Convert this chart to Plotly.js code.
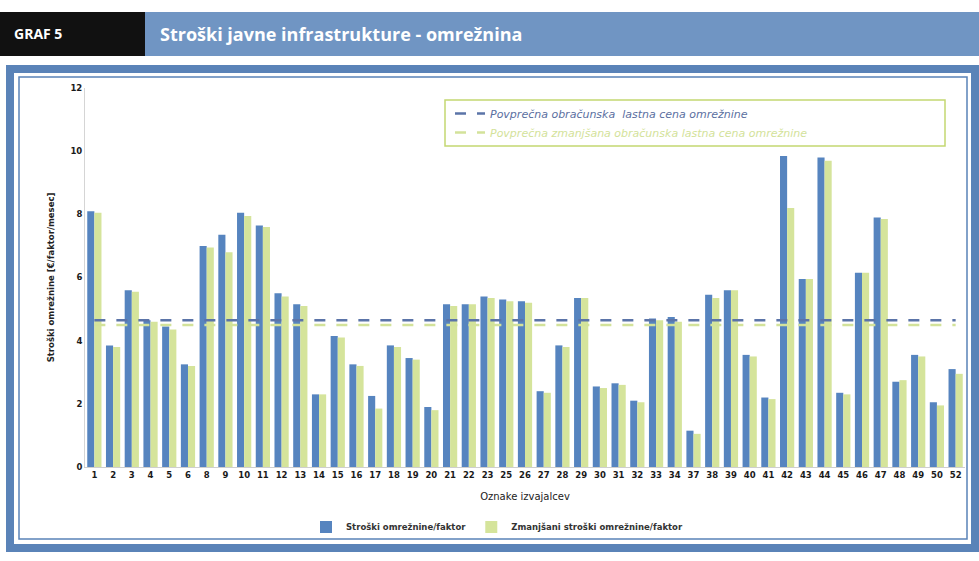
<!DOCTYPE html>
<html>
<head>
<meta charset="utf-8">
<script src="https://cdn.plot.ly/plotly-3.0.1.min.js"></script>
<style>
  html, body { margin: 0; padding: 0; background: #ffffff; }
  #chart { width: 979px; height: 561px; }
</style>
</head>
<body>
<div id="chart"></div>
<script>
// ---- data ----
const categories = ['1','2','3','4','5','6','8','9','10','11','12','13','14','15','16','17','18','19','20','21','22','23','25','26','27','28','29','30','31','32','33','34','37','38','39','40','41','42','43','44','45','46','47','48','49','50','52'];
const stroski = [8.1,3.85,5.6,4.65,4.45,3.25,7.0,7.35,8.05,7.65,5.5,5.15,2.3,4.15,3.25,2.25,3.85,3.45,1.9,5.15,5.15,5.4,5.3,5.25,2.4,3.85,5.35,2.55,2.65,2.1,4.7,4.75,1.15,5.45,5.6,3.55,2.2,9.85,5.95,9.8,2.35,6.15,7.9,2.7,3.55,2.05,3.1];
const zmanjsani = [8.05,3.8,5.55,4.6,4.35,3.2,6.95,6.8,7.95,7.6,5.4,5.1,2.3,4.1,3.2,1.85,3.8,3.4,1.8,5.1,5.15,5.35,5.25,5.2,2.35,3.8,5.35,2.5,2.6,2.05,4.65,4.6,1.05,5.35,5.6,3.5,2.15,8.2,5.95,9.7,2.3,6.15,7.85,2.75,3.5,1.95,2.95];
const avgCena = 4.65;
const avgZmanjsana = 4.5;
const yTicks = [0,2,4,6,8,10,12];

const nameStroski = 'Stroški omrežnine/faktor';
const nameZmanjsani = 'Zmanjšani stroški omrežnine/faktor';
const nameAvg = 'Povprečna obračunska  lastna cena omrežnine';
const nameAvgZ = 'Povprečna zmanjšana obračunska lastna cena omrežnine';
const headerLabel = 'GRAF 5';
const headerTitle = 'Stroški javne infrastrukture - omrežnina';

// ---- layout helpers (pixel -> paper) ----
const W = 979, H = 561;
const L = 85, R = 14, T = 88, B = 94;
const pw = W - L - R, ph = H - T - B;
const px = x => (x - L) / pw;
const py = y => (H - B - y) / ph;

const BLUE = '#5684bf';
const GREEN = '#d5e49b';
const FRAME = '#5a83b8';

const lastCat = categories[categories.length - 1];

const traces = [
  { type: 'bar', x: categories, y: stroski, name: nameStroski,
    marker: { color: BLUE }, legend: 'legend' },
  { type: 'bar', x: categories, y: zmanjsani, name: nameZmanjsani,
    marker: { color: GREEN }, legend: 'legend' },
  { type: 'scatter', mode: 'lines', x: [categories[0], lastCat], y: [avgCena, avgCena],
    name: '<i><span style="color:#5b6f9f">' + nameAvg + '</span></i>',
    line: { color: '#5b74a8', width: 2.5, dash: '11px,11px' }, legend: 'legend2' },
  { type: 'scatter', mode: 'lines', x: [categories[0], lastCat], y: [avgZmanjsana, avgZmanjsana],
    name: '<i><span style="color:#d3e29a">' + nameAvgZ + '</span></i>',
    line: { color: '#d3e29a', width: 2.5, dash: '11px,11px' }, legend: 'legend2' }
];

const layout = {
  width: W, height: H,
  margin: { l: L, r: R, t: T, b: B, pad: 0 },
  paper_bgcolor: '#ffffff',
  plot_bgcolor: '#ffffff',
  barmode: 'group',
  bargap: 0.24,
  bargroupgap: 0,
  font: { family: 'DejaVu Sans, sans-serif', color: '#222222', size: 9 },
  xaxis: {
    type: 'category',
    tickfont: { family: 'DejaVu Sans, sans-serif', size: 8.5, weight: 'bold', color: '#1a1a1a' },
    showgrid: false, zeroline: false,
    showline: true, linecolor: '#cfcfcf', linewidth: 1,
    ticks: '', ticklen: 0,
    title: { text: 'Oznake izvajalcev', font: { family: 'DejaVu Sans, sans-serif', size: 10, color: '#222' }, standoff: 13 }
  },
  yaxis: {
    range: [0, 12],
    tickvals: yTicks,
    tickfont: { family: 'DejaVu Sans, sans-serif', size: 8.5, weight: 'bold', color: '#1a1a1a' },
    showgrid: false, zeroline: false,
    showline: true, linecolor: '#d5d5d5', linewidth: 1,
    ticks: '', ticklen: 0,
    title: { text: 'Stroški omrežnine [€/faktor/mesec]', font: { family: 'DejaVu Sans, sans-serif', size: 8.5, weight: 'bold', color: '#222' }, standoff: 14 }
  },
  legend: {
    orientation: 'h',
    x: px(497), xanchor: 'center',
    y: py(527), yanchor: 'middle',
    font: { family: 'DejaVu Sans, sans-serif', size: 8.5, weight: 'bold', color: '#333' },
    bgcolor: 'rgba(0,0,0,0)',
    itemwidth: 30,
    tracegroupgap: 0
  },
  legend2: {
    x: px(450), xanchor: 'left',
    y: py(99), yanchor: 'top',
    font: { family: 'DejaVu Sans, sans-serif', size: 11, color: '#5b6f9f' },
    bgcolor: 'rgba(0,0,0,0)',
    itemwidth: 30,
    tracegroupgap: 0
  },
  shapes: [
    // header blocks
    { type: 'rect', xref: 'paper', yref: 'paper', x0: px(0), x1: px(145), y0: py(56), y1: py(12),
      fillcolor: '#111111', line: { width: 0 }, layer: 'above' },
    { type: 'rect', xref: 'paper', yref: 'paper', x0: px(145), x1: px(979), y0: py(56), y1: py(12),
      fillcolor: '#7095c3', line: { width: 0 }, layer: 'above' },
    // chart frame (thick outer band + thin inner line)
    { type: 'rect', xref: 'paper', yref: 'paper', x0: px(10), x1: px(975), y0: py(548), y1: py(69),
      line: { color: FRAME, width: 8 }, fillcolor: 'rgba(0,0,0,0)' },
    { type: 'rect', xref: 'paper', yref: 'paper', x0: px(19), x1: px(967), y0: py(539), y1: py(77),
      line: { color: FRAME, width: 1.5 }, fillcolor: 'rgba(0,0,0,0)' },
    // top legend box
    { type: 'rect', xref: 'paper', yref: 'paper', x0: px(445), x1: px(945), y0: py(146), y1: py(100),
      line: { color: '#c4d772', width: 1.5 }, fillcolor: 'rgba(0,0,0,0)' }
  ],
  annotations: [
    { xref: 'paper', yref: 'paper', x: px(12), y: py(33), xanchor: 'left', yanchor: 'middle',
      text: '<b>' + headerLabel + '</b>', showarrow: false,
      font: { family: 'Open Sans, sans-serif', size: 14, color: '#ffffff' } },
    { xref: 'paper', yref: 'paper', x: px(158), y: py(34), xanchor: 'left', yanchor: 'middle',
      text: '<b>' + headerTitle + '</b>', showarrow: false,
      font: { family: 'Open Sans, sans-serif', size: 18, color: '#ffffff' } }
  ]
};

Plotly.newPlot('chart', traces, layout, { displayModeBar: false, staticPlot: true });
</script>
</body>
</html>
